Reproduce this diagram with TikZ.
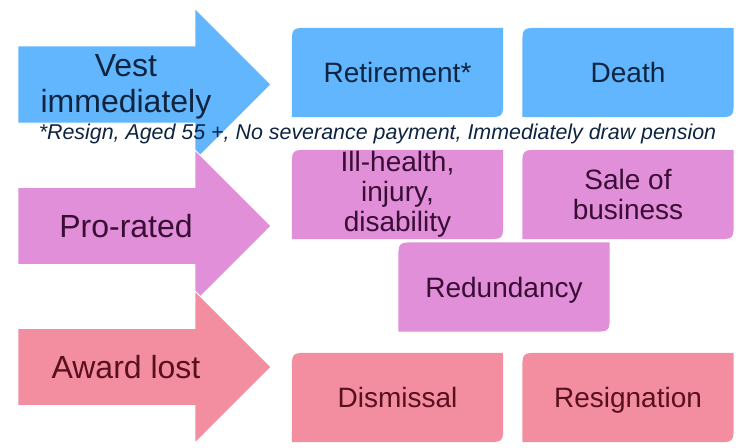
\documentclass[tikz,border=0pt]{standalone}
\usepackage{fontspec}
\setmainfont{Liberation Sans}
\usetikzlibrary{backgrounds}

\definecolor{vestfill}{HTML}{61B6FE}
\definecolor{vesttext}{HTML}{0E2440}
\definecolor{profill}{HTML}{E08FD8}
\definecolor{protext}{HTML}{3A0D35}
\definecolor{lostfill}{HTML}{F38EA0}
\definecolor{losttext}{HTML}{5A0F1E}

\tikzset{
  bigarrow/.style={draw=white, line width=0.8pt},
  arrowlabel/.style={align=center, font=\fontsize{32}{36}\selectfont},
  event/.style={minimum width=211pt, minimum height=89pt, inner sep=0pt,
    align=center, font=\fontsize{28}{30}\selectfont},
  oneline/.style={text height=20pt, text depth=0pt},
  vestbox/.style={event, text=vesttext},
  probox/.style={event, text=protext},
  lostbox/.style={event, text=losttext}
}

% arrow with centre line at y=#1
\newcommand{\bigarrowpath}[2]{%
  \draw[bigarrow, fill=#2] (18,{#1-38.5}) -- (195,{#1-38.5}) -- (195,{#1-76})
    -- (271,#1) -- (195,{#1+76}) -- (195,{#1+38.5}) -- (18,{#1+38.5}) -- cycle;}
% box fill, rounded top left and bottom right only
\newcommand{\eventfill}[2]{%
  \fill[#2] (#1.south west) -- ([yshift=-18pt]#1.north west)
    .. controls (#1.north west) .. ([xshift=18pt]#1.north west)
    -- (#1.north east) -- ([yshift=18pt]#1.south east)
    .. controls (#1.south east) .. ([xshift=-18pt]#1.south east) -- cycle;}

\begin{document}
\begin{tikzpicture}[x=1pt, y=-1pt]
  \useasboundingbox (0,0) rectangle (738,447);

  % Arrows
  \bigarrowpath{84.5}{vestfill}
  \bigarrowpath{226}{profill}
  \bigarrowpath{367}{lostfill}

  \node[arrowlabel, text=vesttext] (vest) at (126,87) {Vest\\immediately};
  \node[arrowlabel, text=protext] (prorated) at (126,226) {Pro-rated};
  \node[arrowlabel, text=losttext] (lost) at (126,367) {Award lost};

  % Footnote
  \node[text=vesttext, font=\fontsize{21.4}{24}\selectfont\itshape] (note) at (377.5,134)
    {*Resign, Aged 55 +, No severance payment, Immediately draw pension};

  % Events
  \node[vestbox, oneline] (retire) at (397.5,72.5) {Retirement*};
  \node[vestbox, oneline] (death) at (628,72.5) {Death};
  \node[probox] (health) at (397.5,194.5) {Ill-health,\\injury,\\disability};
  \node[probox] (sale) at (628,194.5) {Sale of\\business};
  \node[probox, oneline] (redund) at (504,287) {Redundancy};
  \node[lostbox, oneline] (dismiss) at (397.5,397.5) {Dismissal};
  \node[lostbox, oneline] (resign) at (628,397.5) {Resignation};

  \begin{scope}[on background layer]
    \eventfill{retire}{vestfill}
    \eventfill{death}{vestfill}
    \eventfill{health}{profill}
    \eventfill{sale}{profill}
    \eventfill{redund}{profill}
    \eventfill{dismiss}{lostfill}
    \eventfill{resign}{lostfill}
  \end{scope}
\end{tikzpicture}
\end{document}
